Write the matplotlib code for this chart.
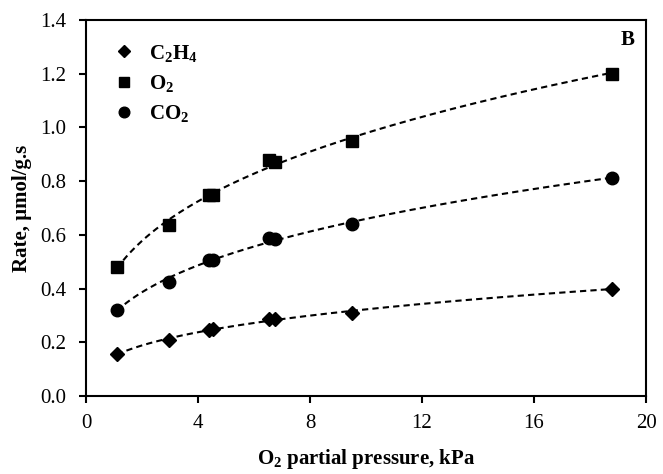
import numpy as np
import matplotlib.pyplot as plt
from matplotlib.lines import Line2D

plt.rcParams['font.family'] = ['Liberation Serif', 'DejaVu Serif']
plt.rcParams['mathtext.fontset'] = 'custom'
plt.rcParams['mathtext.rm'] = 'Liberation Serif:bold'
plt.rcParams['mathtext.it'] = 'Liberation Serif:bold'
plt.rcParams['mathtext.bf'] = 'Liberation Serif:bold'
plt.rcParams['mathtext.default'] = 'rm'

# O2 partial pressure (kPa) and measured rates (umol/g.s)
pressure = [1.1, 2.95, 4.4, 4.55, 6.55, 6.75, 9.5, 18.8]
rate_c2h4 = [0.155, 0.21, 0.245, 0.25, 0.285, 0.285, 0.31, 0.40]
rate_o2 = [0.48, 0.635, 0.75, 0.75, 0.88, 0.87, 0.95, 1.20]
rate_co2 = [0.32, 0.425, 0.505, 0.505, 0.59, 0.585, 0.64, 0.81]

series = [
    (r'C$_2$H$_4$', rate_c2h4, 'D', 7.5),
    (r'O$_2$', rate_o2, 's', 8.5),
    (r'CO$_2$', rate_co2, 'o', 9),
]

fig = plt.figure(figsize=(6.63, 4.74), dpi=100)
ax = fig.add_axes([0.1297, 0.1646, 0.8447, 0.7932])

x = np.array(pressure)
xs = np.linspace(x.min(), x.max(), 200)
handles = []
for label, vals, mk, ms in series:
    y = np.array(vals)
    # power trendline y = a * x^b fitted to the measured points
    b, ln_a = np.polyfit(np.log(x), np.log(y), 1)
    ax.plot(xs, np.exp(ln_a) * xs ** b, color='black', lw=1.5,
            linestyle=(0, (3, 2)), zorder=2)
    ax.plot(x, y, linestyle='none', marker=mk, markersize=ms,
            color='black', zorder=3)
    handles.append(Line2D([], [], linestyle='none', marker=mk,
                          markersize=ms * 0.85, color='black', label=label))

leg = ax.legend(handles=handles, loc='upper left', bbox_to_anchor=(0.015, 0.99),
                frameon=False, prop={'size': 15, 'weight': 'bold'},
                handlelength=1.0, handletextpad=0.7, labelspacing=0.45)

ax.text(0.968, 0.947, 'B', transform=ax.transAxes, fontsize=15,
        fontweight='bold', ha='center', va='center')

ax.set_xlim(0, 20)
ax.set_ylim(0, 1.4)
ax.set_xticks(np.arange(0, 21, 4))
ax.set_yticks(np.arange(0, 1.41, 0.2))
ax.set_yticklabels(['%.1f' % v for v in np.arange(0, 1.41, 0.2)])
ax.tick_params(direction='out', length=5, width=1.5, labelsize=15)
ax.tick_params(axis='y', pad=9)
ax.tick_params(axis='x', pad=8)

for s in ax.spines.values():
    s.set_linewidth(1.5)

ax.set_xlabel(r'O$_2$ partial pressure, kPa', fontsize=15, fontweight='bold',
              labelpad=10)
ax.set_ylabel('Rate, µmol/g.s', fontsize=15, fontweight='bold', labelpad=6)

fig.savefig('out.png', dpi=100)
